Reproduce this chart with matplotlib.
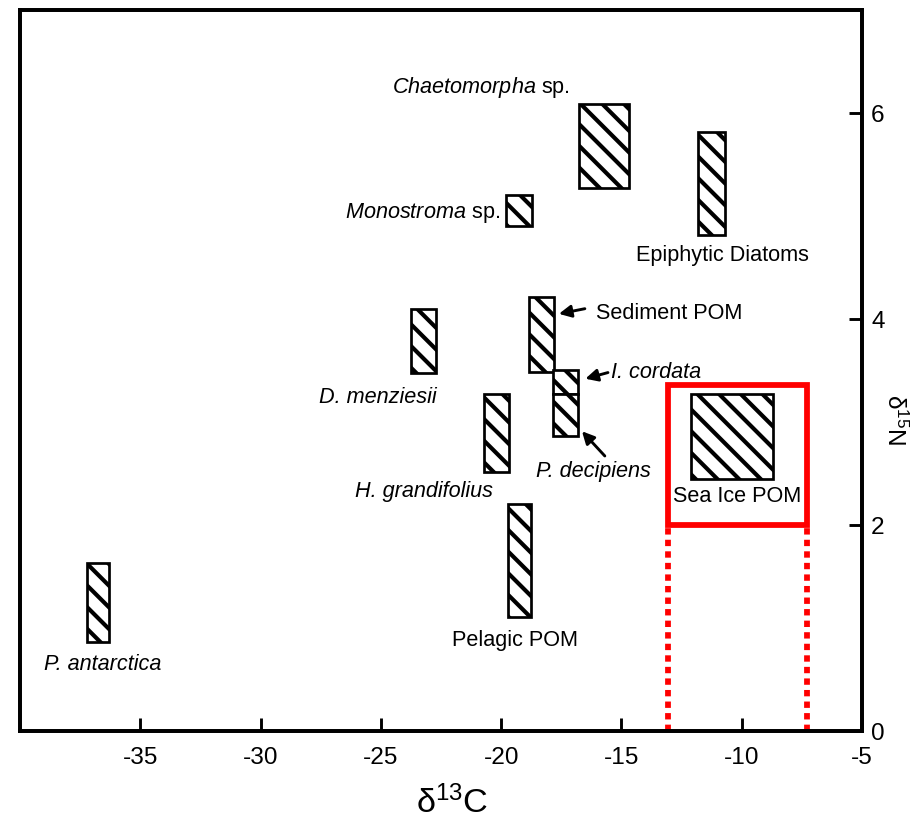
import matplotlib
matplotlib.use("Agg")
import matplotlib.pyplot as plt
import numpy as np
from matplotlib.patches import Rectangle

# isotope ranges for each source (d13C lo/hi, d15N lo/hi)
sources = ["Chaetomorpha", "Epiphytic Diatoms", "Monostroma", "D. menziesii",
           "Sediment POM", "I. cordata", "P. decipiens", "H. grandifolius",
           "Pelagic POM", "P. antarctica", "Sea Ice POM"]
c13_lo = [-16.75, -11.8, -19.8, -23.75, -18.85, -17.83, -17.83, -20.7, -19.7, -37.2, -12.1]
c13_hi = [-14.7, -10.7, -18.7, -22.7, -17.8, -16.82, -16.82, -19.66, -18.77, -36.3, -8.7]
n15_lo = [5.27, 4.82, 4.9, 3.48, 3.49, 3.27, 2.86, 2.51, 1.11, 0.86, 2.45]
n15_hi = [6.09, 5.82, 5.2, 4.1, 4.21, 3.5, 3.27, 3.27, 2.2, 1.63, 3.27]

# highlighted sea ice window
ice_x = [-13.05, -7.3]
ice_y = [2.0, 3.36]

xticks = [-35, -30, -25, -20, -15, -10, -5]
yticks = [0, 2, 4, 6]

fam = "Liberation Sans"
plt.rcParams["font.family"] = [fam, "DejaVu Sans"]
plt.rcParams["mathtext.fontset"] = "custom"
plt.rcParams["mathtext.rm"] = fam
plt.rcParams["mathtext.it"] = fam + ":italic"
plt.rcParams["axes.unicode_minus"] = False
plt.rcParams["hatch.linewidth"] = 2.3
plt.rcParams["hatch.color"] = "black"

DPI = 130
fig = plt.figure(figsize=(915 / DPI, 829 / DPI), dpi=DPI)
ax = fig.add_axes([20 / 915, 98 / 829, 842 / 915, 721 / 829])

lo = np.array(c13_lo)
w = np.array(c13_hi) - lo
b = np.array(n15_lo)
h = np.array(n15_hi) - b
ax.bar(lo, h, width=w, bottom=b, align="edge", color="white",
       edgecolor="black", linewidth=1.5, hatch="\\\\", zorder=2)

# red frame around sea ice POM and dotted drop lines
ax.add_patch(Rectangle((ice_x[0], ice_y[0]), ice_x[1] - ice_x[0], ice_y[1] - ice_y[0],
                       fill=False, edgecolor="#ff0000", linewidth=3.2, zorder=4))
ax.vlines(ice_x, 0, ice_y[0], colors="#ff0000", linewidth=3.2,
          linestyles=(0, (1.1, 0.9)), zorder=3)

fs = 12
ax.text(-17.14, 6.25, r"$\mathit{Chaetomorpha}$ sp.", ha="right", va="center", fontsize=fs)
ax.text(-20.05, 5.03, r"$\mathit{Monostroma}$ sp.", ha="right", va="center", fontsize=fs)
ax.text(-10.82, 4.62, "Epiphytic Diatoms", ha="center", va="center", fontsize=fs)
ax.text(-16.06, 4.05, "Sediment POM", ha="left", va="center", fontsize=fs)
ax.text(-15.44, 3.48, "I. cordata", ha="left", va="center", fontsize=fs, style="italic")
ax.text(-16.18, 2.52, "P. decipiens", ha="center", va="center", fontsize=fs, style="italic")
ax.text(-25.12, 3.24, "D. menziesii", ha="center", va="center", fontsize=fs, style="italic")
ax.text(-23.21, 2.33, "H. grandifolius", ha="center", va="center", fontsize=fs, style="italic")
ax.text(-19.43, 0.88, "Pelagic POM", ha="center", va="center", fontsize=fs)
ax.text(-36.55, 0.65, "P. antarctica", ha="center", va="center", fontsize=fs, style="italic")
ax.text(-10.20, 2.28, "Sea Ice POM", ha="center", va="center", fontsize=fs, zorder=5)

arr = dict(arrowstyle="-|>", color="black", lw=1.6, mutation_scale=14, shrinkA=0, shrinkB=0)
ax.annotate("", xy=(-17.6, 4.05), xytext=(-16.52, 4.10), arrowprops=arr)
ax.annotate("", xy=(-16.5, 3.42), xytext=(-15.56, 3.48), arrowprops=arr)
ax.annotate("", xy=(-16.64, 2.91), xytext=(-15.69, 2.67), arrowprops=arr)

ax.set_xlim(-40, -5)
ax.set_ylim(0, 7)
ax.set_xticks(xticks)
ax.set_yticks(yticks)
ax.tick_params(axis="x", direction="in", length=7.2, width=1.6, labelsize=13.5, pad=9)
ax.tick_params(axis="y", direction="in", length=7.2, width=1.6, labelsize=13.5, pad=5,
               left=False, labelleft=False, right=True, labelright=True)
for s in ax.spines.values():
    s.set_linewidth(2.2)
    s.set_zorder(6)

fig.text(452 / 915, 1 - 803 / 829, r"δ$^{13}$C", ha="center", va="center", fontsize=19)
fig.text(895 / 915, 1 - 420 / 829, r"δ$^{15}$N", ha="center", va="center", fontsize=13.5,
         rotation=-90)

fig.savefig("out.png", dpi=DPI)
